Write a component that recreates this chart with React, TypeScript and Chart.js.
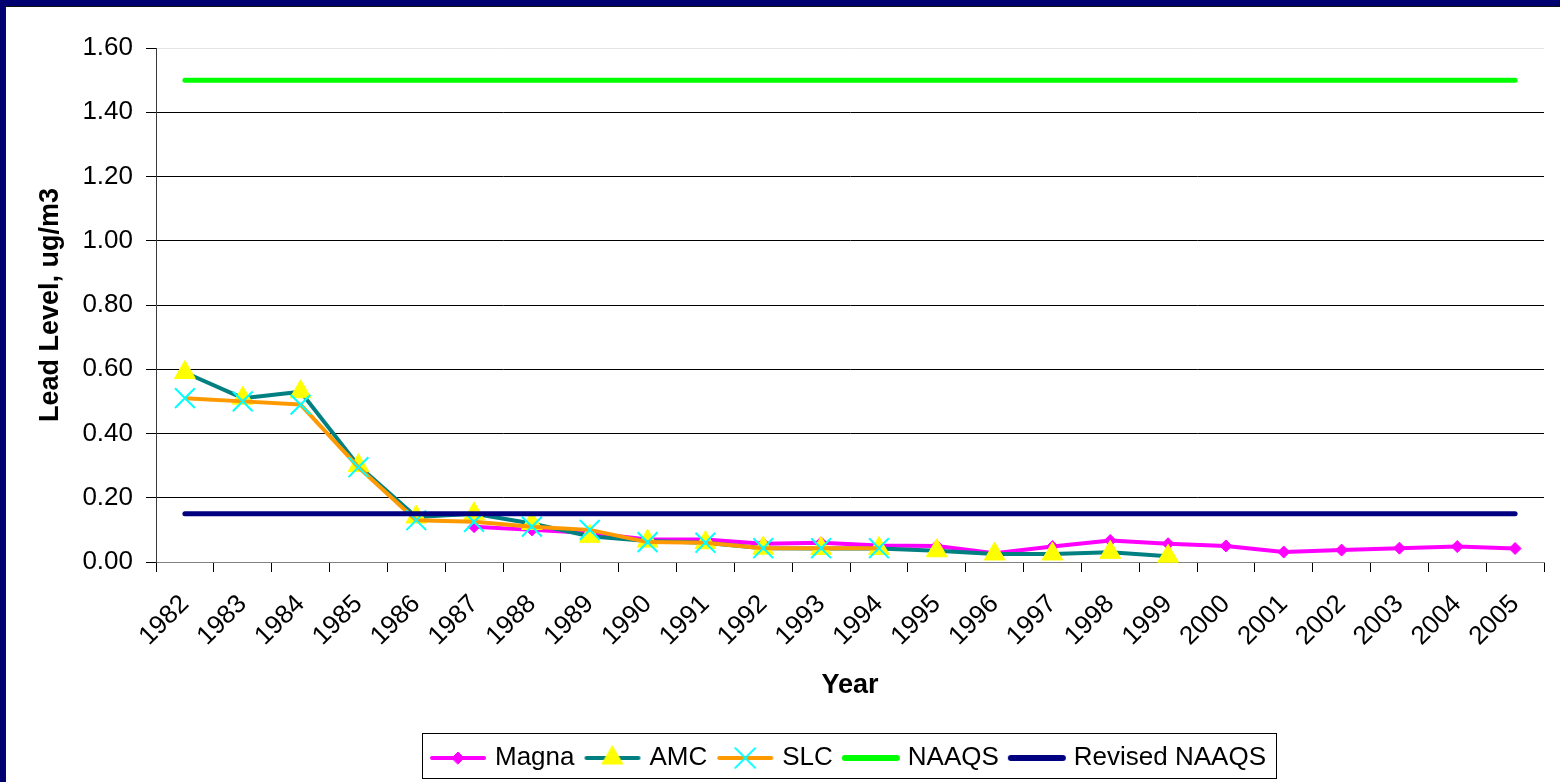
import React, { useEffect, useRef } from 'react';
import { Chart, registerables } from 'chart.js';
import { drawPoint } from 'chart.js/helpers';

Chart.register(...registerables);

const years = ['1982','1983','1984','1985','1986','1987','1988','1989','1990','1991','1992','1993','1994','1995','1996','1997','1998','1999','2000','2001','2002','2003','2004','2005'];

const magna = [null, null, null, null, null, 0.11, 0.10, 0.09, 0.07, 0.07, 0.057, 0.06, 0.051, 0.05, 0.027, 0.048, 0.067, 0.057, 0.05, 0.031, 0.037, 0.043, 0.048, 0.042];
const amc = [0.59, 0.51, 0.53, 0.30, 0.14, 0.15, 0.12, 0.08, 0.065, 0.06, 0.043, 0.042, 0.042, 0.035, 0.025, 0.025, 0.03, 0.018, null, null, null, null, null, null];
const slc = [0.51, 0.50, 0.49, 0.295, 0.13, 0.125, 0.11, 0.10, 0.062, 0.06, 0.043, 0.043, 0.043, null, null, null, null, null, null, null, null, null, null, null];
const naaqs = [1.5, 1.5, 1.5, 1.5, 1.5, 1.5, 1.5, 1.5, 1.5, 1.5, 1.5, 1.5, 1.5, 1.5, 1.5, 1.5, 1.5, 1.5, 1.5, 1.5, 1.5, 1.5, 1.5, 1.5];
const revisedNaaqs = [0.15, 0.15, 0.15, 0.15, 0.15, 0.15, 0.15, 0.15, 0.15, 0.15, 0.15, 0.15, 0.15, 0.15, 0.15, 0.15, 0.15, 0.15, 0.15, 0.15, 0.15, 0.15, 0.15, 0.15];
const yTicks = [0, 0.2, 0.4, 0.6, 0.8, 1.0, 1.2, 1.4, 1.6];

const FONT = "'Liberation Sans', Arial, sans-serif";

type Marker = { style: string | false; radius: number; fill: string; stroke: string; width: number };

function makeIcon(color: string, lineWidth: number, m: Marker | null): HTMLCanvasElement {
  const c = document.createElement('canvas');
  c.width = 60;
  c.height = 30;
  const ctx = c.getContext('2d')!;
  ctx.strokeStyle = color;
  ctx.lineWidth = lineWidth;
  ctx.lineCap = 'round';
  ctx.beginPath();
  ctx.moveTo(4, 15);
  ctx.lineTo(56, 15);
  ctx.stroke();
  if (m && m.style) {
    ctx.fillStyle = m.fill;
    ctx.strokeStyle = m.stroke;
    ctx.lineWidth = m.width;
    drawPoint(ctx, { pointStyle: m.style as any, radius: m.radius, rotation: 0, borderWidth: m.width }, 30, 15);
  }
  return c;
}

export default function App() {
  const ref = useRef<HTMLCanvasElement>(null);

  useEffect(() => {
    document.body.style.margin = '0';
    const magnaM: Marker = { style: 'rectRot', radius: 6, fill: '#ff00ff', stroke: '#ff00ff', width: 1 };
    const amcM: Marker = { style: 'triangle', radius: 12, fill: '#ffff00', stroke: '#ffff00', width: 1 };
    const slcM: Marker = { style: 'crossRot', radius: 14, fill: '#00ffff', stroke: '#00ffff', width: 2 };
    const icons = [
      makeIcon('#ff00ff', 4, magnaM),
      makeIcon('#008080', 4, amcM),
      makeIcon('#ff9900', 4, slcM),
      makeIcon('#00ff00', 6, null),
      makeIcon('#000080', 6, null),
    ];

    const legendBorder = {
      id: 'legendBorder',
      afterDraw(chart: any) {
        const lg = chart.legend;
        if (!lg || !lg.legendHitBoxes || !lg.legendHitBoxes.length) return;
        const hb = lg.legendHitBoxes;
        let minL = Infinity, maxR = -Infinity;
        hb.forEach((h: any) => { minL = Math.min(minL, h.left); maxR = Math.max(maxR, h.left + h.width); });
        const cy = hb[0].top + hb[0].height / 2;
        const ctx = chart.ctx;
        ctx.save();
        ctx.strokeStyle = '#000';
        ctx.lineWidth = 1;
        ctx.strokeRect(Math.round(minL - 12) + 0.5, Math.round(cy - 25) + 0.5, Math.round(maxR + 10 - (minL - 12)), 45);
        ctx.restore();
      },
    };

    const chart = new Chart(ref.current!, {
      type: 'line',
      data: {
        labels: years,
        datasets: [
          {
            label: 'Magna', data: magna, order: 5,
            borderColor: '#ff00ff', borderWidth: 4, backgroundColor: '#ff00ff',
            pointStyle: 'rectRot', pointRadius: 6, pointBackgroundColor: '#ff00ff', pointBorderColor: '#ff00ff', pointBorderWidth: 1,
            borderJoinStyle: 'round', clip: false,
          },
          {
            label: 'AMC', data: amc, order: 4,
            borderColor: '#008080', borderWidth: 4, backgroundColor: '#ffff00',
            pointStyle: 'triangle', pointRadius: 12, pointBackgroundColor: '#ffff00', pointBorderColor: '#ffff00', pointBorderWidth: 1,
            borderJoinStyle: 'round', clip: false,
          },
          {
            label: 'SLC', data: slc, order: 3,
            borderColor: '#ff9900', borderWidth: 4, backgroundColor: '#00ffff',
            pointStyle: 'crossRot', pointRadius: 14, pointBackgroundColor: '#00ffff', pointBorderColor: '#00ffff', pointBorderWidth: 2,
            borderJoinStyle: 'round', clip: false,
          },
          {
            label: 'NAAQS', data: naaqs, order: 2,
            borderColor: '#00ff00', borderWidth: 5, backgroundColor: '#00ff00',
            pointRadius: 0, borderCapStyle: 'round', clip: false,
          },
          {
            label: 'Revised NAAQS', data: revisedNaaqs, order: 1,
            borderColor: '#000080', borderWidth: 5, backgroundColor: '#000080',
            pointRadius: 0, borderCapStyle: 'round', clip: false,
          },
        ],
      },
      options: {
        responsive: false,
        animation: false,
        devicePixelRatio: 1,
        events: [],
        layout: { padding: { left: 0, right: 10, top: 41, bottom: 1 } },
        font: { family: FONT },
        scales: {
          x: {
            type: 'category',
            offset: true,
            grid: { offset: true, drawOnChartArea: false, drawTicks: true, tickLength: 10, color: '#000', tickColor: '#000' },
            border: { display: true, color: '#808080', width: 1 },
            ticks: { autoSkip: false, minRotation: 45, maxRotation: 45, padding: 17, color: '#000', font: { family: FONT, size: 26 } },
            title: { display: true, text: 'Year', color: '#000', font: { family: FONT, size: 27, weight: 'bold' }, padding: { top: 0, bottom: 29 } },
            afterFit: (s: any) => { s.height = 169; },
          },
          y: {
            min: 0,
            max: 1.6,
            afterBuildTicks: (s: any) => { s.ticks = yTicks.map((v) => ({ value: v })); },
            grid: {
              color: (c: any) => (c.tick && Math.abs(c.tick.value - 1.6) < 1e-6 ? '#e4e4e4' : c.tick && c.tick.value === 0 ? '#808080' : '#000'),
              tickColor: '#000',
              tickLength: 10,
              lineWidth: 1,
            },
            border: { display: true, color: '#3a3a3a', width: 1 },
            ticks: { padding: 13, color: '#000', font: { family: FONT, size: 26 }, callback: (v: any) => Number(v).toFixed(2) },
            title: { display: true, text: 'Lead Level, ug/m3', color: '#000', font: { family: FONT, size: 27, weight: 'bold' }, padding: { top: 27, bottom: 0 } },
            afterFit: (s: any) => { s.width = 149; },
          },
        },
        plugins: {
          tooltip: { enabled: false },
          title: { display: false },
          legend: {
            display: true,
            position: 'bottom',
            fullSize: false,
            labels: {
              usePointStyle: true,
              pointStyleWidth: 48,
              padding: 14,
              color: '#000',
              font: { family: FONT, size: 26 },
              sort: (a: any, b: any) => a.datasetIndex - b.datasetIndex,
              generateLabels: (ch: any) => {
                const items = (Chart.defaults.plugins.legend.labels.generateLabels as any)(ch);
                items.forEach((it: any) => { it.pointStyle = icons[it.datasetIndex]; });
                return items;
              },
            },
          },
        },
      } as any,
      plugins: [legendBorder],
    });
    return () => chart.destroy();
  }, []);

  return (
    <div style={{ position: 'fixed', left: 0, top: 0, width: 1560, height: 782, background: '#000070', overflow: 'hidden' }}>
      <div style={{ position: 'absolute', left: 5, top: 6, width: 1560, height: 782, background: '#111' }} />
      <div style={{ position: 'absolute', left: 6, top: 7, width: 1560, height: 782, background: '#fff' }} />
      <canvas ref={ref} width={1553} height={775} style={{ position: 'absolute', left: 7, top: 7, width: 1553, height: 775 }} />
    </div>
  );
}
